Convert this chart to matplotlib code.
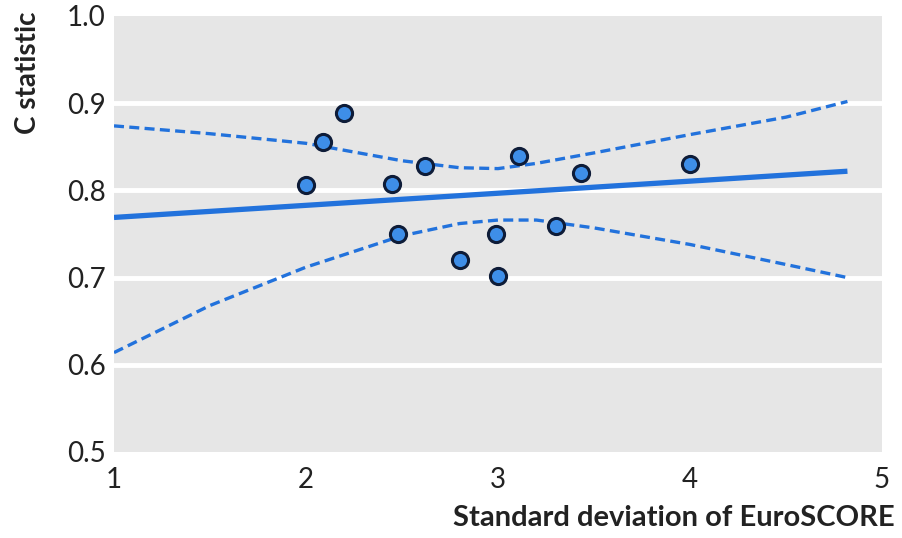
import numpy as np
import matplotlib.pyplot as plt

# observed studies: SD of EuroSCORE vs C statistic
sd_score = [2.00, 2.09, 2.20, 2.45, 2.62, 2.48, 2.80, 2.99, 3.00, 3.11, 3.30, 3.43, 4.00]
c_stat = [0.806, 0.855, 0.889, 0.807, 0.828, 0.750, 0.720, 0.750, 0.702, 0.839, 0.759, 0.820, 0.830]

# fitted meta-regression line and its 95% band
fit_x = [1.0, 4.82]
fit_y = [0.769, 0.822]
band_x = [1.0, 1.5, 2.0, 2.5, 2.8, 3.0, 3.2, 3.5, 4.0, 4.5, 4.82]
band_hi = [0.874, 0.865, 0.854, 0.834, 0.826, 0.825, 0.831, 0.843, 0.864, 0.884, 0.902]
band_lo = [0.614, 0.668, 0.712, 0.748, 0.762, 0.766, 0.766, 0.757, 0.738, 0.715, 0.700]

x_ticks = [1, 2, 3, 4, 5]
y_ticks = [0.5, 0.6, 0.7, 0.8, 0.9, 1.0]

blue = "#2272dc"
font = ["Lato", "DejaVu Sans"]

fig = plt.figure(figsize=(9.02, 5.38), dpi=100)
ax = fig.add_axes([114 / 902, 86 / 538, 768 / 902, 436 / 538])
ax.set_facecolor("#e6e6e6")

for yv in y_ticks[1:-1]:
    ax.axhline(yv, color="white", linewidth=3.5, zorder=1)

ax.plot(band_x, band_hi, color=blue, linewidth=2.4, linestyle=(0, (3, 1.6)), zorder=2)
ax.plot(band_x, band_lo, color=blue, linewidth=2.4, linestyle=(0, (3, 1.6)), zorder=2)
ax.plot(fit_x, fit_y, color=blue, linewidth=3.8, solid_capstyle="butt", zorder=3)
ax.scatter(sd_score, c_stat, s=135, facecolor="#3e8ee8", edgecolor="#0e1c38",
           linewidth=2.2, zorder=4)

ax.set_xlim(1, 5)
ax.set_ylim(0.5, 1.0)
ax.set_xticks(x_ticks)
ax.set_yticks(y_ticks)
ax.set_xticklabels([str(v) for v in x_ticks], fontsize=20, family=font, color="#222222")
ax.set_yticklabels([f"{v:.1f}" for v in y_ticks], fontsize=20, family=font, color="#222222")
ax.tick_params(axis="both", length=0)
ax.tick_params(axis="x", pad=11)
ax.tick_params(axis="y", pad=6)
for s in ax.spines.values():
    s.set_visible(False)

fig.text(28 / 902, (538 - 134) / 538, "C statistic", rotation=90, ha="center",
         va="bottom", fontsize=20, fontweight="bold", family=font, color="#222222")
fig.text(895 / 902, (538 - 526) / 538, "Standard deviation of EuroSCORE", ha="right",
         va="baseline", fontsize=21, fontweight="bold", family=font, color="#222222")

fig.savefig("out.png", dpi=100, facecolor="white")
